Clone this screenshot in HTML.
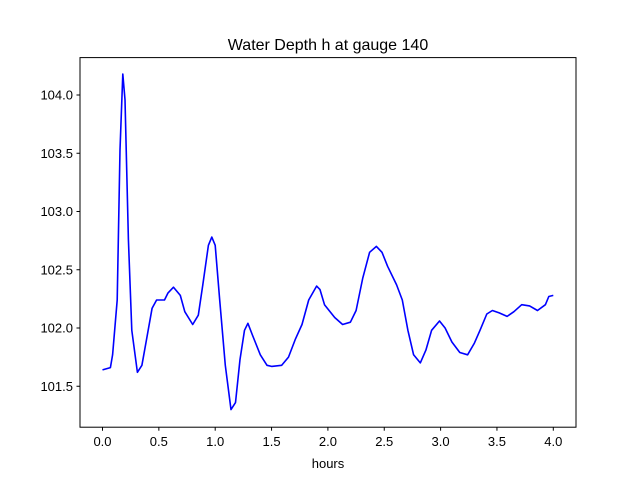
<!DOCTYPE html>
<html><head><meta charset="utf-8"><style>
body{margin:0;background:#fff}
svg{display:block;font-family:"Liberation Sans","DejaVu Sans",sans-serif}
</style></head><body>
<svg id="chart" width="640" height="480">
<rect width="640" height="480" fill="#fff"/>
<text x="328" y="50" text-anchor="middle" font-size="16">Water Depth h at gauge 140</text>
<g id="xt"></g>
<g id="yt"></g>
<path id="line" fill="none" stroke="#0000ff" stroke-width="1.6" stroke-linejoin="round"/>
<rect x="80" y="57.6" width="496" height="369.6" fill="none" stroke="#000" stroke-width="1"/>
<text x="328" y="468" text-anchor="middle" font-size="13">hours</text>
</svg>
<script>
const hours=[0,0.07,0.09,0.13,0.155,0.18,0.2,0.23,0.26,0.31,0.35,0.39,0.44,0.48,0.55,0.58,0.63,0.69,0.73,0.8,0.85,0.89,0.94,0.97,1.0,1.04,1.09,1.14,1.18,1.22,1.26,1.29,1.33,1.4,1.46,1.5,1.59,1.65,1.71,1.77,1.83,1.9,1.93,1.97,2.06,2.13,2.2,2.25,2.31,2.37,2.43,2.48,2.53,2.61,2.66,2.71,2.76,2.82,2.87,2.92,2.99,3.04,3.1,3.17,3.24,3.3,3.35,3.41,3.46,3.52,3.59,3.65,3.72,3.79,3.86,3.93,3.96,4.0];
const depth=[101.64,101.66,101.77,102.24,103.53,104.18,103.96,102.76,101.98,101.62,101.68,101.9,102.17,102.24,102.24,102.3,102.35,102.28,102.14,102.03,102.11,102.37,102.71,102.78,102.71,102.24,101.68,101.3,101.36,101.73,101.98,102.04,101.94,101.77,101.68,101.67,101.68,101.75,101.9,102.03,102.24,102.36,102.33,102.2,102.09,102.03,102.05,102.15,102.43,102.65,102.7,102.65,102.53,102.37,102.24,101.98,101.77,101.7,101.81,101.98,102.06,102.0,101.88,101.79,101.77,101.87,101.98,102.12,102.15,102.13,102.1,102.14,102.2,102.19,102.15,102.2,102.27,102.28];
const xTicks=[0,0.5,1.0,1.5,2.0,2.5,3.0,3.5,4.0];
const yTicks=[101.5,102.0,102.5,103.0,103.5,104.0];
const X=v=>102.5+v*112.7;
const Y=v=>95-(v-104)*116.5;
const NS="http://www.w3.org/2000/svg";
const xt=document.getElementById('xt'),yt=document.getElementById('yt');
xTicks.forEach(t=>{
 const l=document.createElementNS(NS,'line');
 
 
 l.setAttribute('x1',X(t));l.setAttribute('x2',X(t));l.setAttribute('y1',427.2);l.setAttribute('y2',430.7);l.setAttribute('stroke','#000');
 xt.appendChild(l);
 const s=document.createElementNS(NS,'text');
 
 
 s.setAttribute('x',X(t));s.setAttribute('y',446);s.setAttribute('text-anchor','middle');s.setAttribute('font-size','13');
 s.textContent=t.toFixed(1);xt.appendChild(s);
});
yTicks.forEach(t=>{
 const l=document.createElementNS(NS,'line');
 
 
 l.setAttribute('x1',76.5);l.setAttribute('x2',80);l.setAttribute('y1',Y(t));l.setAttribute('y2',Y(t));l.setAttribute('stroke','#000');
 yt.appendChild(l);
 const s=document.createElementNS(NS,'text');
 
 
 s.setAttribute('x',73);s.setAttribute('y',Y(t)+4.5);s.setAttribute('text-anchor','end');s.setAttribute('font-size','13');
 s.textContent=t.toFixed(1);yt.appendChild(s);
});
document.getElementById('line').setAttribute('d',hours.map((h,i)=>(i?'L':'M')+X(h).toFixed(1)+','+Y(depth[i]).toFixed(1)).join(''));
</script>
</body></html>
